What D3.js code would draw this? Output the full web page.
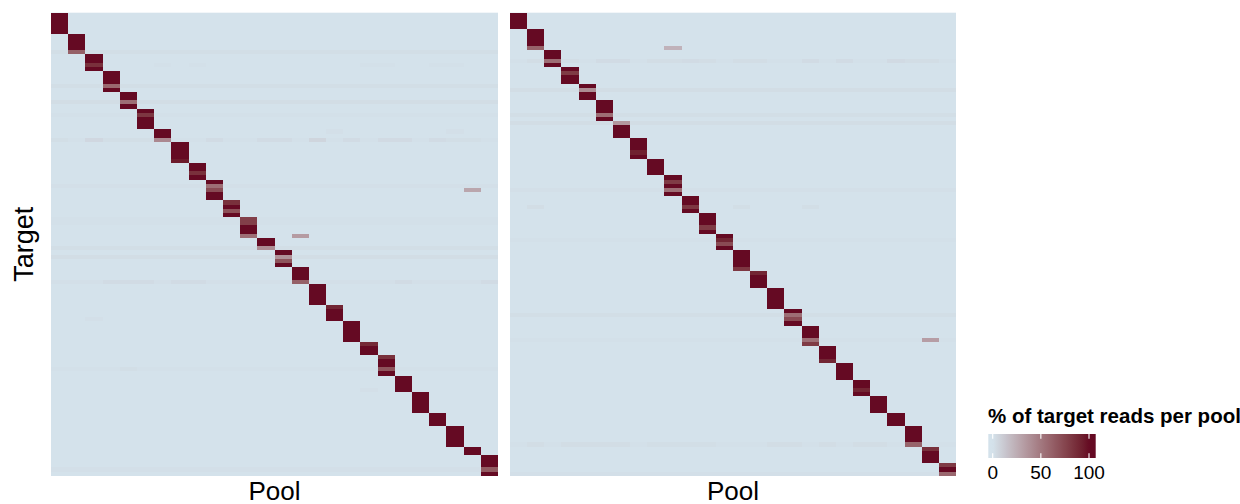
<!DOCTYPE html>
<html>
<head>
<meta charset="utf-8">
<script src="https://d3js.org/d3.v7.min.js"></script>
<style>
  body { margin: 0; background: #fff; }
  svg { display: block; }
  text { font-family: "Liberation Sans", Arial, sans-serif; fill: #000; }
</style>
</head>
<body>
<div id="heatmap"></div>
<script>
// Data
// ==========================================
// pools (columns) - the same 26 pools in both panels
var pools = ["1", "2", "3", "4", "5", "6", "7", "8", "9", "10", "11", "12", "13",
             "14", "15", "16", "17", "18", "19", "20", "21", "22", "23", "24", "25", "26"];

// % of target reads landing in its own pool, one array per pool (one value per target)
var leftDiag = [
  [100, 100, 100, 100, 100],
  [100, 100, 100, 100, 62],
  [100, 100, 85, 100],
  [100, 100, 100, 58, 100],
  [100, 100, 55, 100],
  [100, 82, 100, 100, 100],
  [100, 100, 42],
  [100, 100, 100, 100, 95],
  [100, 100, 85, 100],
  [100, 55, 72, 100, 100],
  [85, 100, 70, 100],
  [78, 78, 100, 100, 55],
  [100, 100, 40],
  [100, 38, 68, 100],
  [100, 100, 100, 62],
  [100, 100, 100, 100, 100],
  [90, 100, 100, 100],
  [100, 100, 100, 100, 100],
  [88, 100, 100],
  [85, 100, 100, 68, 100],
  [100, 100, 100, 100],
  [100, 100, 100, 100, 100],
  [100, 100, 100],
  [100, 100, 100, 100, 100],
  [100, 100],
  [100, 100, 100, 65, 100]
];

var rightDiag = [
  [100, 100, 100, 100],
  [100, 100, 100, 100, 60],
  [100, 100, 55, 100],
  [100, 80, 100, 100],
  [100, 40, 100, 100],
  [100, 100, 100, 55, 100],
  [35, 100, 100, 100],
  [100, 100, 100, 92, 100],
  [100, 100, 100, 100],
  [100, 80, 100, 55, 100],
  [100, 100, 82, 100],
  [100, 100, 100, 80, 100],
  [100, 90, 72, 100],
  [100, 100, 100, 100, 82],
  [90, 100, 100, 100],
  [100, 100, 100, 100, 100],
  [100, 55, 72, 100],
  [100, 100, 100, 55, 80],
  [100, 100, 100, 90],
  [100, 100, 100, 100],
  [100, 100, 90, 100],
  [100, 100, 100, 100],
  [100, 100, 100],
  [100, 100, 100, 100, 60],
  [85, 100, 100, 100],
  [80, 100, 58]
];

// faint leak over a whole target row: [target row, %]
var leftStripes = [[9, 2], [17, 2], [21, 2.5], [24, 1], [30, 1], [41, 1.5], [49, 0.8], [50, 0.8],
                   [56, 2], [58, 2.5], [64, 1.5], [85, 1], [109, 1.5]];
var rightStripes = [[11, 1], [18, 2.5], [24, 2], [26, 2.5], [42, 1.5], [54, 1], [72, 2],
                    [78, 1], [103, 1], [110, 1.5]];

// single off-diagonal cells: [target row, pool, %]
var leftSpots = [
  [30, 1, 2], [30, 3, 5], [30, 4, 2], [30, 5, 2], [30, 6, 2], [30, 10, 3], [30, 13, 3],
  [30, 14, 3], [30, 16, 6], [30, 18, 3], [30, 20, 3.5], [30, 21, 3.5], [30, 23, 3],
  [30, 24, 2], [30, 25, 2],
  [28, 17, 1.5], [28, 24, 1.5],
  [12, 7, 1], [12, 9, 1], [12, 19, 1], [12, 20, 1], [12, 23, 1], [12, 24, 1],
  [42, 25, 28],
  [53, 15, 33],
  [64, 4, 3], [64, 5, 3], [64, 6, 3], [64, 8, 3], [64, 9, 3], [64, 21, 3], [64, 26, 3],
  [73, 3, 1.5], [85, 5, 2], [90, 19, 1.5]
];
var rightSpots = [
  [8, 10, 22],
  [11, 2, 2.5], [11, 4, 2.5], [11, 6, 3], [11, 7, 3], [11, 9, 2.5], [11, 10, 2.5],
  [11, 11, 3], [11, 12, 2.5], [11, 14, 2.5], [11, 15, 2.5], [11, 18, 3], [11, 20, 3],
  [11, 23, 3.5], [11, 24, 2.5], [11, 25, 2.5],
  [46, 2, 2.5], [46, 14, 2], [46, 18, 2],
  [78, 25, 32],
  [103, 2, 2.5], [103, 4, 2.5], [103, 5, 2.5], [103, 6, 2.5], [103, 7, 2.5], [103, 9, 2],
  [103, 10, 2], [103, 11, 2], [103, 12, 2], [103, 16, 2.5], [103, 17, 2.5], [103, 19, 2.5],
  [103, 21, 2.5], [103, 22, 2.5]
];

var legendTicks = [0, 50, 100];

// Set up the chart
// ==========================================
var svgWidth = 1240;
var svgHeight = 504;

var panelTop = 12.7;
var panelBottom = 475.7;

var svg = d3.select("#heatmap")
  .append("svg")
  .attr("width", svgWidth)
  .attr("height", svgHeight);

svg.append("rect")
  .attr("width", svgWidth)
  .attr("height", svgHeight)
  .attr("fill", "#fff");

var colorScale = d3.scaleLinear()
  .domain([0, 100])
  .range(["#d4e2eb", "#650a23"])
  .interpolate(d3.interpolateLab)
  .clamp(true);

// turn the small arrays into one cell per target x pool
function buildCells(diag, stripes, spots) {
  var stripeMap = new Map(stripes.map(d => [d[0], d[1]]));
  var spotMap = new Map(spots.map(d => [d[0] + "-" + d[1], d[2]]));
  var cells = [];
  var row = 0;
  diag.forEach(function(block, i) {
    block.forEach(function(v) {
      pools.forEach(function(p, j) {
        var value;
        if (j === i) {
          value = v;
        } else if (spotMap.has(row + "-" + (j + 1))) {
          value = spotMap.get(row + "-" + (j + 1));
        } else {
          value = stripeMap.get(row) || 0;
        }
        cells.push({ row: row, pool: p, value: value });
      });
      row++;
    });
  });
  return { cells: cells, rows: d3.range(row) };
}

var panels = [
  { data: buildCells(leftDiag, leftStripes, leftSpots), x0: 51, x1: 498 },
  { data: buildCells(rightDiag, rightStripes, rightSpots), x0: 510, x1: 956 }
];

panels.forEach(function(panel) {
  var xScale = d3.scaleBand()
    .domain(pools)
    .range([panel.x0, panel.x1]);

  var yScale = d3.scaleBand()
    .domain(panel.data.rows)
    .range([panelTop, panelBottom]);

  var g = svg.append("g");

  g.append("rect")
    .attr("x", panel.x0)
    .attr("y", panelTop)
    .attr("width", panel.x1 - panel.x0)
    .attr("height", panelBottom - panelTop)
    .attr("fill", colorScale(0));

  g.selectAll("rect.cell")
    .data(panel.data.cells)
    .enter()
    .append("rect")
    .attr("class", "cell")
    .attr("x", d => xScale(d.pool))
    .attr("y", d => yScale(d.row))
    .attr("width", xScale.bandwidth())
    .attr("height", yScale.bandwidth())
    .attr("fill", d => colorScale(d.value))
    .attr("shape-rendering", "crispEdges");

  // x axis title
  svg.append("text")
    .attr("x", (panel.x0 + panel.x1) / 2)
    .attr("y", 500)
    .attr("text-anchor", "middle")
    .style("font-size", "26px")
    .text("Pool");
});

// y axis title
svg.append("text")
  .attr("transform", "translate(33, " + ((panelTop + panelBottom) / 2) + ") rotate(-90)")
  .attr("text-anchor", "middle")
  .style("font-size", "27px")
  .text("Target");

// Legend
// ==========================================
var legendScale = d3.scaleLinear()
  .domain([0, 100])
  .range([992.7, 1089]);

var barX = 988.3, barW = 107.4, barY = 434, barH = 24;

var grad = svg.append("defs")
  .append("linearGradient")
  .attr("id", "legendGrad")
  .attr("x1", "0%").attr("x2", "100%")
  .attr("y1", "0%").attr("y2", "0%");

d3.range(0, 41).forEach(function(i) {
  var t = i / 40;
  grad.append("stop")
    .attr("offset", (t * 100) + "%")
    .attr("stop-color", colorScale(legendScale.invert(barX + t * barW)));
});

svg.append("rect")
  .attr("x", barX)
  .attr("y", barY)
  .attr("width", barW)
  .attr("height", barH)
  .attr("fill", "url(#legendGrad)");

legendTicks.forEach(function(t) {
  svg.append("line")
    .attr("x1", legendScale(t)).attr("x2", legendScale(t))
    .attr("y1", barY).attr("y2", barY + barH / 5)
    .attr("stroke", "#fff").attr("stroke-width", 1.1);
  svg.append("line")
    .attr("x1", legendScale(t)).attr("x2", legendScale(t))
    .attr("y1", barY + barH - barH / 5).attr("y2", barY + barH)
    .attr("stroke", "#fff").attr("stroke-width", 1.1);
  svg.append("text")
    .attr("x", legendScale(t))
    .attr("y", 478.5)
    .attr("text-anchor", "middle")
    .style("font-size", "19px")
    .text(t);
});

svg.append("text")
  .attr("x", 988)
  .attr("y", 423)
  .style("font-size", "20.5px")
  .style("font-weight", "bold")
  .text("% of target reads per pool");
</script>
</body>
</html>
